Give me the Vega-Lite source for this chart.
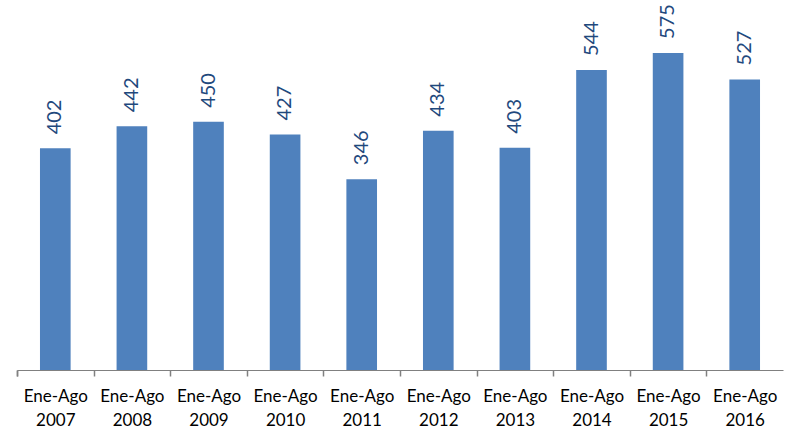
{
  "$schema": "https://vega.github.io/schema/vega-lite/v6.json",
  "width": 766,
  "height": 370,
  "autosize": {"type": "none"},
  "padding": {"left": 17, "top": 0, "right": 11, "bottom": 66},
  "background": "white",
  "config": {"view": {"stroke": null}, "font": "Lato"},
  "data": {
    "values": [
      {"periodo": "Ene-Ago 2007", "valor": 402},
      {"periodo": "Ene-Ago 2008", "valor": 442},
      {"periodo": "Ene-Ago 2009", "valor": 450},
      {"periodo": "Ene-Ago 2010", "valor": 427},
      {"periodo": "Ene-Ago 2011", "valor": 346},
      {"periodo": "Ene-Ago 2012", "valor": 434},
      {"periodo": "Ene-Ago 2013", "valor": 403},
      {"periodo": "Ene-Ago 2014", "valor": 544},
      {"periodo": "Ene-Ago 2015", "valor": 575},
      {"periodo": "Ene-Ago 2016", "valor": 527}
    ]
  },
  "encoding": {
    "x": {
      "field": "periodo",
      "type": "nominal",
      "sort": null,
      "scale": {"paddingInner": 0.6, "paddingOuter": 0.3},
      "axis": {
        "title": null,
        "labelAngle": 0,
        "labelExpr": "split(datum.label, ' ')",
        "labelFont": "Lato",
        "labelFontSize": 17,
        "labelColor": "#000000",
        "labelLineHeight": 24,
        "labelPadding": 12,
        "labelBaseline": "top",
        "labelOffset": 23,
        "ticks": true,
        "bandPosition": 0,
        "tickOffset": -23,
        "tickExtra": true,
        "tickSize": 6,
        "tickColor": "#808080",
        "domainColor": "#808080",
        "domainWidth": 1,
        "tickWidth": 1.5
      }
    },
    "y": {
      "field": "valor",
      "type": "quantitative",
      "scale": {"domain": [0, 671], "nice": false},
      "axis": null
    }
  },
  "layer": [
    {"mark": {"type": "bar", "color": "#4F81BD"}},
    {
      "mark": {
        "type": "text",
        "angle": 270,
        "align": "left",
        "baseline": "middle",
        "dx": 14,
        "font": "Lato",
        "fontSize": 20,
        "color": "#1F497D"
      },
      "encoding": {"text": {"field": "valor", "type": "quantitative"}}
    }
  ]
}
